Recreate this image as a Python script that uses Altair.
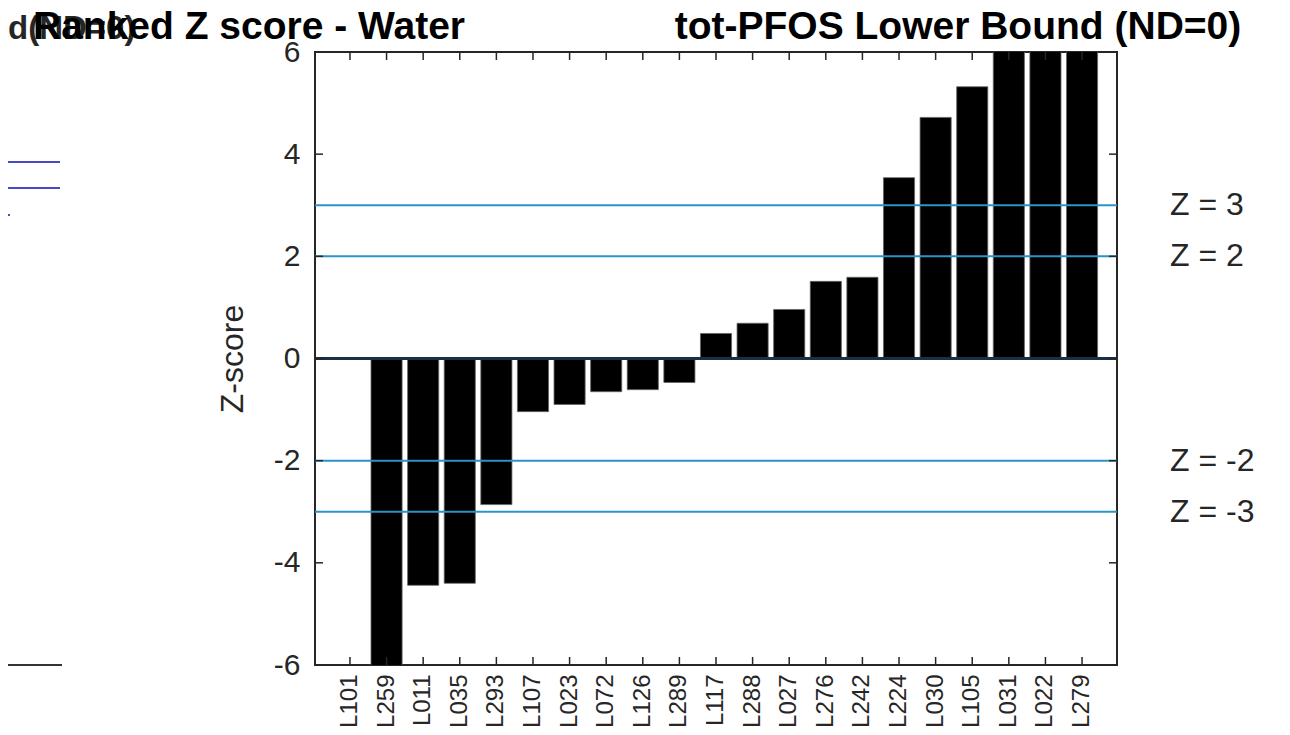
import altair as alt
import pandas as pd

labs = ["L101", "L259", "L011", "L035", "L293", "L107", "L023", "L072", "L126", "L289",
        "L117", "L288", "L027", "L276", "L242", "L224", "L030", "L105", "L031", "L022", "L279"]
zscores = [0.0, -7.5, -4.44, -4.40, -2.86, -1.04, -0.90, -0.65, -0.61, -0.47,
           0.49, 0.69, 0.96, 1.51, 1.59, 3.54, 4.72, 5.32, 7.5, 8.0, 9.0]
ref_vals = [3, 2, -2, -3]
ref_text = ["Z = 3", "Z = 2", "Z = -2", "Z = -3"]
ytick_vals = [-6, -4, -2, 0, 2, 4, 6]

W, H = 802, 613
FONT = "Liberation Sans"
DARK = "#262626"
REF = "#2a94c8"

df = pd.DataFrame({"lab": labs, "z": zscores})
refs = pd.DataFrame({"z": ref_vals, "t": ref_text})
yt = pd.DataFrame({"v": ytick_vals})
one = pd.DataFrame({"k": [0]})

xenc = alt.X("lab:N", sort=labs,
             scale=alt.Scale(paddingInner=0.15, paddingOuter=0.53),
             axis=alt.Axis(title=None, labelAngle=-90, labelFontSize=24, labelFont=FONT,
                           labelColor=DARK, ticks=False, domain=False, labelPadding=9,
                           labelAlign="right", labelBaseline="middle"))
yscale = alt.Scale(domain=[-6, 6], nice=False, zero=False)
yaxis = alt.Axis(values=ytick_vals, labelFontSize=30, labelFont=FONT, labelColor=DARK,
                 labelExpr="datum.value + ''",
                 ticks=False, domain=False, grid=False, labelPadding=15,
                 title="Z-score", titleFontSize=32, titleFont=FONT, titleFontWeight="normal",
                 titleColor=DARK, titlePadding=24)

bars = alt.Chart(df).mark_bar(color="black", stroke="#666666", strokeWidth=0.8, clip=True).encode(
    x=xenc, y=alt.Y("z:Q", scale=yscale, axis=yaxis))

reflines = alt.Chart(refs).mark_rule(color=REF, strokeWidth=2).encode(
    y=alt.Y("z:Q", scale=yscale))

zero = alt.Chart(pd.DataFrame({"z": [0]})).mark_rule(color="#1b2f45", strokeWidth=3).encode(
    y=alt.Y("z:Q", scale=yscale))

reflabels = alt.Chart(refs).mark_text(align="left", baseline="middle", fontSize=32,
                                      font=FONT, color=DARK).encode(
    x=alt.value(855), y=alt.Y("z:Q", scale=yscale), text="t:N")

top_ticks = alt.Chart(df).mark_rule(color=DARK, strokeWidth=1.5).encode(
    x=alt.X("lab:N", sort=labs), y=alt.value(0), y2=alt.value(8))
bot_ticks = alt.Chart(df).mark_rule(color=DARK, strokeWidth=1.5).encode(
    x=alt.X("lab:N", sort=labs), y=alt.value(H), y2=alt.value(H - 8))
left_ticks = alt.Chart(yt).mark_rule(color=DARK, strokeWidth=1.5).encode(
    y=alt.Y("v:Q", scale=yscale), x=alt.value(0), x2=alt.value(8))
right_ticks = alt.Chart(yt).mark_rule(color=DARK, strokeWidth=1.5).encode(
    y=alt.Y("v:Q", scale=yscale), x=alt.value(W), x2=alt.value(W - 8))

# stray fragments visible at the left edge of the reference image
stray1 = alt.Chart(one).mark_rule(color="#4848c8", strokeWidth=2).encode(
    x=alt.value(-307), x2=alt.value(-255), y=alt.value(110))
stray2 = alt.Chart(one).mark_rule(color="#4848c8", strokeWidth=2).encode(
    x=alt.value(-307), x2=alt.value(-255), y=alt.value(136))
stray3 = alt.Chart(one).mark_rule(color="#4848c8", strokeWidth=2).encode(
    x=alt.value(-307), x2=alt.value(-305), y=alt.value(163))
stray4 = alt.Chart(one).mark_rule(color="#333333", strokeWidth=2).encode(
    x=alt.value(-307), x2=alt.value(-253), y=alt.value(613))

title_l = alt.Chart(pd.DataFrame({"t": ["Ranked Z score - Water"]})).mark_text(
    align="center", baseline="alphabetic", fontSize=39, fontWeight="bold", font=FONT,
    color="black").encode(x=alt.value(-66), y=alt.value(-13), text="t:N")
title_r = alt.Chart(pd.DataFrame({"t": ["tot-PFOS Lower Bound (ND=0)"]})).mark_text(
    align="center", baseline="alphabetic", fontSize=39, fontWeight="bold", font=FONT,
    color="black").encode(x=alt.value(643), y=alt.value(-13), text="t:N")
ghost = alt.Chart(pd.DataFrame({"t": ["d(ND=0)"]})).mark_text(
    align="left", baseline="alphabetic", fontSize=33, fontWeight="bold", font=FONT,
    color="black", opacity=0.85).encode(x=alt.value(-307), y=alt.value(-13), text="t:N")

chart = alt.layer(
    bars, reflines, zero, reflabels, top_ticks, bot_ticks, left_ticks, right_ticks,
    stray1, stray2, stray3, stray4, title_l, ghost, title_r
).properties(
    width=W, height=H,
    autosize=alt.AutoSizeParams(type="none"),
    padding={"left": 307, "top": 44, "right": 160, "bottom": 66},
    background="white"
).configure_view(stroke=DARK, strokeWidth=2)

chart.save("out.html", embed_options={"renderer": "svg", "actions": False})
